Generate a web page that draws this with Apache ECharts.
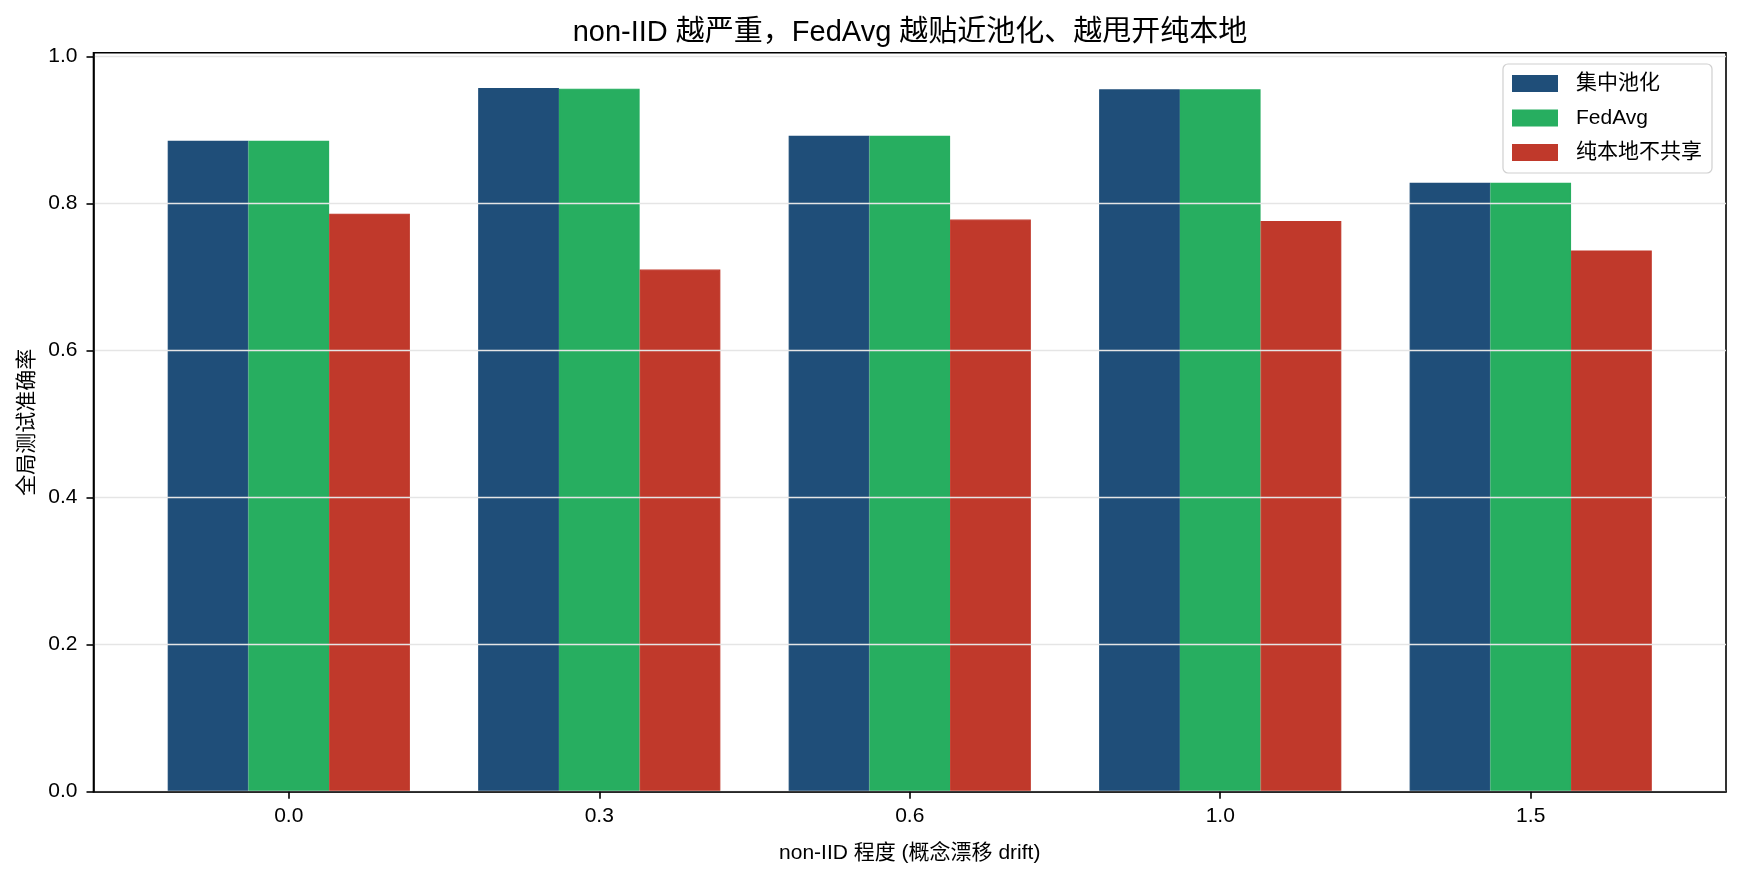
<!DOCTYPE html>
<html>
<head>
<meta charset="utf-8">
<script src="https://cdn.jsdelivr.net/npm/echarts@6/dist/echarts.min.js"></script>
<style>
html,body{margin:0;padding:0;background:#fff;}
#chart{width:1741px;height:879px;}
</style>
</head>
<body>
<div id="chart"></div>
<script>
// ---- data ----
const categories = ['0.0', '0.3', '0.6', '1.0', '1.5'];
const seriesNames = ['集中池化', 'FedAvg', '纯本地不共享'];
const pooled = [0.885, 0.957, 0.892, 0.955, 0.828];
const fedavg = [0.885, 0.956, 0.892, 0.955, 0.828];
const localOnly = [0.786, 0.710, 0.778, 0.776, 0.736];
const yTicks = [0.0, 0.2, 0.4, 0.6, 0.8, 1.0];
const titleText = 'non-IID 越严重，FedAvg 越贴近池化、越甩开纯本地';
const xName = 'non-IID 程度 (概念漂移 drift)';
const yName = '全局测试准确率';

const FONT = "'Liberation Sans', 'Noto Sans CJK SC', Arial, sans-serif";
const colors = ['#1f4e79', '#27ae60', '#c0392b'];
const allVals = pooled.concat(fedavg, localOnly);
const yMax = Math.max.apply(null, allVals) * 1.05;
const xIdx = categories.map((c, i) => i);

function toPts(arr) { return arr.map((v, i) => [i, v]); }

const chart = echarts.init(document.getElementById('chart'), null, {renderer: 'canvas'});
function barSeries(k, arr) {
  return {
    name: seriesNames[k], type: 'bar', data: toPts(arr),
    barWidth: '26%', barGap: '0%',
    itemStyle: {color: colors[k], borderColor: colors[k], borderWidth: 1.2}
  };
}
const option = {
  backgroundColor: '#ffffff',
  animation: false,
  textStyle: {fontFamily: FONT},
  title: {
    text: titleText,
    left: 905,
    top: 13,
    textAlign: 'center',
    textStyle: {fontFamily: FONT, fontSize: 29, fontWeight: 'normal', color: '#000'}
  },
  legend: {
    orient: 'vertical',
    left: 1503,
    top: 64,
    padding: [9, 10, 10, 9],
    itemWidth: 44,
    itemHeight: 15,
    itemGap: 13.5,
    icon: 'rect',
    backgroundColor: 'rgba(255,255,255,0.8)',
    borderColor: '#d0d0d0',
    borderWidth: 1.2,
    borderRadius: 5,
    textStyle: {fontFamily: FONT, fontSize: 21, color: '#000', padding: [0, 0, 0, 14]},
    data: seriesNames
  },
  grid: {
    left: 93.5, right: 15, top: 52.7, bottom: 87.3,
    show: true, borderColor: '#000', borderWidth: 1.6, backgroundColor: 'transparent'
  },
  xAxis: {
    type: 'value',
    min: -0.629,
    max: 4.629,
    z: 5,
    name: xName,
    nameLocation: 'middle',
    nameGap: 51,
    nameTextStyle: {fontFamily: FONT, fontSize: 21, color: '#000', verticalAlign: 'top'},
    axisLine: {show: true, onZero: false, lineStyle: {color: '#000', width: 1.6}},
    axisTick: {show: true, length: 7, customValues: xIdx, lineStyle: {color: '#000', width: 1.6}},
    axisLabel: {
      customValues: xIdx,
      margin: 14,
      fontFamily: FONT, fontSize: 21, color: '#000',
      formatter: function (v) { return categories[Math.round(v)]; }
    },
    splitLine: {show: false}
  },
  yAxis: {
    type: 'value',
    min: 0,
    max: yMax,
    interval: 0.2,
    z: 5,
    name: yName,
    nameLocation: 'middle',
    nameGap: 52,
    nameTextStyle: {fontFamily: FONT, fontSize: 21, color: '#000'},
    axisLine: {show: true, onZero: false, lineStyle: {color: '#000', width: 1.6}},
    axisTick: {show: true, length: 7, customValues: yTicks, lineStyle: {color: '#000', width: 1.6}},
    axisLabel: {
      customValues: yTicks,
      margin: 16,
      fontFamily: FONT, fontSize: 21, color: '#000',
      formatter: function (v) { return v.toFixed(1); }
    },
    splitLine: {show: true, lineStyle: {color: '#e5e5e5', width: 1.4}}
  },
  series: [
    barSeries(0, pooled),
    barSeries(1, fedavg),
    barSeries(2, localOnly)
  ]
};
chart.setOption(option);
</script>
</body>
</html>
